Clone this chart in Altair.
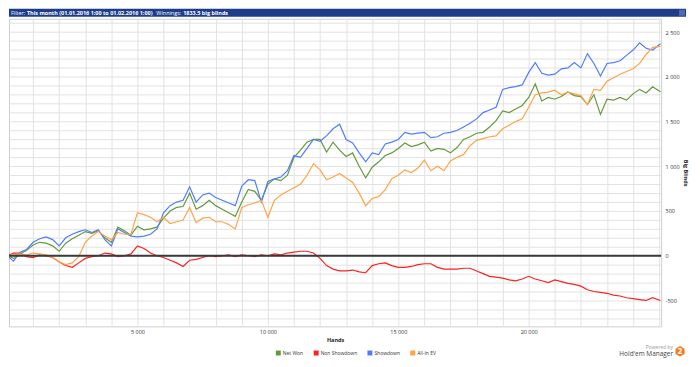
import altair as alt
import pandas as pd

hands = list(range(0, 24751, 250)) + [25050]

net_won = [
    0, -30, 20, 60, 120, 150, 140, 110, 50, 140,
    190, 230, 270, 250, 280, 200, 150, 320, 280, 230,
    330, 290, 300, 320, 420, 500, 540, 550, 700, 520,
    560, 620, 560, 520, 480, 440, 600, 740, 720, 620,
    800, 860, 840, 900, 1100, 1180, 1270, 1300, 1300, 1160,
    1270, 1180, 1110, 1150, 1000, 870, 990, 1050, 1120, 1150,
    1200, 1260, 1220, 1240, 1270, 1170, 1200, 1190, 1150, 1210,
    1300, 1330, 1370, 1380, 1440, 1510, 1620, 1600, 1640, 1680,
    1770, 1920, 1730, 1770, 1750, 1780, 1830, 1790, 1780, 1690,
    1800, 1580, 1750, 1740, 1770, 1740, 1810, 1860, 1820, 1890,
    1833,
]
non_showdown = [
    0, 30, 30, -10, -20, 10, 0, -20, -70, -110,
    -130, -80, -30, -10, 0, 30, 20, -10, 0, 20,
    110, 80, 30, 0, -20, -50, -80, -120, -50, -40,
    -20, 0, -10, 0, 10, -10, 10, 0, -10, 10,
    0, 20, 10, 30, 40, 50, 50, 30, -30, -110,
    -150, -170, -170, -160, -180, -190, -110, -90, -80, -110,
    -130, -130, -120, -100, -90, -90, -130, -150, -150, -150,
    -140, -140, -170, -200, -230, -240, -250, -270, -280, -260,
    -230, -260, -280, -300, -270, -290, -310, -320, -340, -380,
    -400, -410, -420, -440, -450, -470, -480, -490, -500, -470,
    -500,
]
showdown = [
    0, -60, 40, 70, 150, 190, 210, 180, 110, 200,
    240, 270, 290, 260, 290, 180, 110, 300, 260, 220,
    210, 220, 240, 300, 480, 560, 600, 620, 770, 600,
    680, 700, 650, 620, 590, 560, 780, 850, 840, 600,
    830, 860, 880, 950, 1120, 1100, 1200, 1300, 1280, 1340,
    1420, 1470, 1300, 1260, 1150, 1050, 1150, 1130, 1250, 1270,
    1300, 1380, 1360, 1370, 1380, 1320, 1330, 1370, 1380, 1400,
    1440, 1480, 1530, 1600, 1630, 1660, 1860, 1880, 1890, 1910,
    2050, 2160, 2040, 2020, 2030, 2090, 2100, 2160, 2100, 2260,
    2150, 2010, 2150, 2160, 2180, 2240, 2300, 2380, 2320, 2300,
    2370,
]
all_in_ev = [
    0, 10, 20, 10, 30, 20, 10, -20, -70, -100,
    -80, -10, 150, 220, 270, 220, 180, 260, 240, 240,
    480, 460, 430, 380, 430, 360, 380, 400, 540, 370,
    420, 430, 380, 380, 350, 300, 540, 570, 590, 620,
    430, 620, 680, 720, 760, 800, 900, 1030, 960, 850,
    880, 920, 870, 820, 700, 560, 640, 660, 740, 860,
    900, 960, 930, 980, 1070, 950, 1000, 950, 1060, 1100,
    1130, 1230, 1290, 1310, 1330, 1340, 1420, 1460, 1500, 1530,
    1660, 1800, 1820, 1830, 1850, 1800, 1830, 1810, 1790, 1690,
    1860, 1850, 1950, 1990, 2030, 2060, 2090, 2150, 2250, 2330,
    2340,
]

series_names = ["Net Won", "Non Showdown", "Showdown", "All-In EV"]
series_colors = ["#659a3c", "#ff2020", "#4f7cff", "#ffa347"]

rows = []
for name, vals in zip(series_names, [net_won, non_showdown, showdown, all_in_ev]):
    for h, v in zip(hands, vals):
        rows.append({"Hands": h, "Big Blinds": v, "Series": name, "order": series_names.index(name)})
df = pd.DataFrame(rows)

W, H = 655, 309
FONT = "Open Sans"

x_grid = list(range(1000, 25001, 1000))
y_grid = list(range(-700, 2601, 100))

fmt_label = "replace(format(datum.value, ','), ',', ' ')"

lines = alt.Chart(df).mark_line(strokeWidth=1.2, clip=True).encode(
    x=alt.X("Hands:Q", scale=alt.Scale(domain=[76, 25076], nice=False, zero=False),
            axis=alt.Axis(values=x_grid, tickCount=500, grid=True, gridColor="#e2e2e2", ticks=False,
                          domain=False,
                          labelExpr=f"(datum.value % 5000 == 0 && datum.value < 25000) ? {fmt_label} : ''",
                          labelOverlap=False, labelFlush=False, labelFontSize=5.5, labelColor="#333333",
                          labelPadding=3, title="Hands", titleFontSize=5.5, titleFontWeight="bold",
                          titlePadding=3, titleColor="#222222")),
    y=alt.Y("Big Blinds:Q", scale=alt.Scale(domain=[-790, 2650], nice=False, zero=False),
            axis=alt.Axis(orient="right", values=y_grid, tickCount=500, grid=True, gridColor="#e2e2e2",
                          ticks=False, domain=False,
                          labelExpr=f"datum.value % 500 == 0 ? replace({fmt_label}, '\u2212', '-') : ''",
                          labelOverlap=False, labelFlush=False, labelFontSize=5.5, labelColor="#333333",
                          labelPadding=4, title="Big Blinds", titleFontSize=5.5, titleFontWeight="bold",
                          titlePadding=3, titleColor="#222222")),
    color=alt.Color("Series:N", scale=alt.Scale(domain=series_names, range=series_colors),
                    legend=alt.Legend(orient="none", legendX=268, legendY=333, direction="horizontal",
                                      title=None, symbolType="square", symbolSize=4, symbolStrokeWidth=3,
                                      labelFontSize=5, labelColor="#333333", columnPadding=5,
                                      labelOffset=2)),
    order="order:Q",
)

zero_line = alt.Chart(pd.DataFrame({"v": [0]})).mark_rule(color="#3a3a3a", strokeWidth=2).encode(
    y=alt.Y("v:Q")
)

bar = alt.Chart(pd.DataFrame({"a": [0]})).mark_rect(color="#1d3d8b").encode(
    x=alt.value(0), x2=alt.value(680), y=alt.value(-10), y2=alt.value(-2)
)
icon = alt.Chart(pd.DataFrame({"a": [0]})).mark_rect(color="#4a6cb8").encode(
    x=alt.value(673), x2=alt.value(679), y=alt.value(-9), y2=alt.value(-3)
)

title_parts = [
    ("Filter:", 2, "normal"),
    ("This month (01.01.2016 1:00 to 01.02.2016 1:00)", 18, "bold"),
    ("Winnings:", 148, "normal"),
    ("1833.5 big blinds", 175, "bold"),
]
title_layers = [
    alt.Chart(pd.DataFrame({"a": [0]})).mark_text(
        text=t, color="white", fontSize=5.5, fontWeight=wt, align="left", baseline="middle", font=FONT
    ).encode(x=alt.value(xp), y=alt.value(-6))
    for t, xp, wt in title_parts
]

powered = alt.Chart(pd.DataFrame({"a": [0]})).mark_text(
    text="Powered by", color="#999999", fontSize=5, align="right", baseline="middle", font=FONT
).encode(x=alt.value(667), y=alt.value(330))
hm = alt.Chart(pd.DataFrame({"a": [0]})).mark_text(
    text="Hold'em Manager", color="#444444", fontSize=6.5, align="right", baseline="middle", font=FONT
).encode(x=alt.value(667), y=alt.value(337))
badge = alt.Chart(pd.DataFrame({"a": [0]})).mark_point(
    shape="M0,-1L0.866,-0.5L0.866,0.5L0,1L-0.866,0.5L-0.866,-0.5Z", filled=True, color="#f47a20",
    size=110, opacity=1
).encode(x=alt.value(674), y=alt.value(334))
badge_t = alt.Chart(pd.DataFrame({"a": [0]})).mark_text(
    text="2", color="white", fontSize=8, fontWeight="bold", align="center", baseline="middle", font=FONT
).encode(x=alt.value(674), y=alt.value(334.5))

chart = alt.layer(lines, zero_line, bar, icon, *title_layers, powered, hm, badge, badge_t).properties(
    width=W, height=H, padding={"left": 0, "top": 0, "right": 4, "bottom": 0}
).configure(font=FONT).configure_view(stroke="#cfcfcf", strokeWidth=1)

chart.save("out.html", embed_options={"renderer": "svg", "actions": False})
